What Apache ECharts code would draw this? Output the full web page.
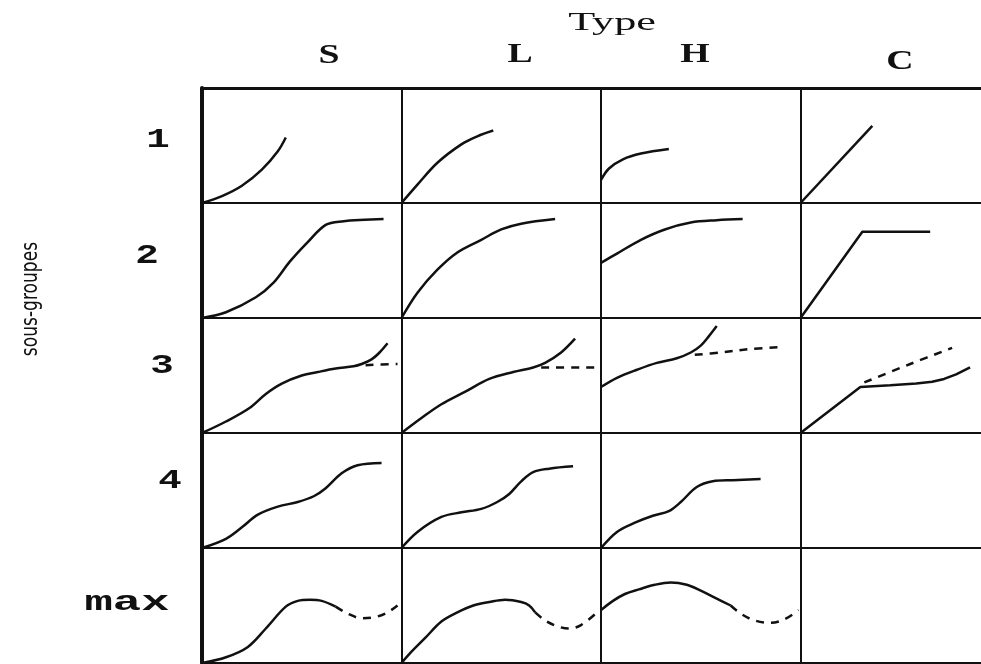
<!DOCTYPE html>
<html>
<head>
<meta charset="utf-8">
<script src="https://cdn.jsdelivr.net/npm/echarts@6/dist/echarts.min.js"></script>
<style>
  html, body { margin: 0; padding: 0; background: #fff; }
  #chart { width: 981px; height: 664px; }
</style>
</head>
<body>
<div id="chart"></div>
<script>
// column / row headings
const colLabels = ['S', 'L', 'H', 'C'];
const rowLabels = ['1', '2', '3', '4', 'max'];

// curves, each cell in its own 0..100 x 0..100 box (x = time, y = value)
// row 1
const s1 = [[0, 0], [10, 6], [20, 15], [30, 29], [38, 45], [42, 57]];
const l1 = [[0, 0], [8, 16], [18, 35], [30, 51], [38, 58], [46, 63]];
const h1 = [[0, 20], [4, 30], [11, 38], [20, 43], [34, 47]];
const c1 = [[0, 0], [36, 67]];
// row 2
const s2 = [[0, 0], [12, 5], [27, 18], [36, 31], [44, 49], [53, 66], [62, 81], [70, 84], [91, 86]];
const l2 = [[0, 0], [8, 22], [18, 42], [28, 57], [40, 68], [50, 77], [60, 82], [77, 86]];
const h2 = [[0, 48], [8, 56], [20, 68], [32, 77], [45, 83], [58, 85], [71, 86]];
const c2 = [[0, 0], [31, 75], [65, 75]];
// row 3 (solid + dashed branch)
const s3 = [[0, 0], [12, 10], [24, 22], [32, 34], [40, 43], [50, 50], [58, 53], [67, 56], [76, 58], [80, 60], [85, 64], [89, 70], [93, 78]];
const s3d = [[82, 59], [98, 60]];
const l3 = [[0, 0], [10, 13], [20, 25], [32, 36], [44, 47], [56, 53], [66, 57], [72, 61], [80, 70], [87, 82]];
const l3d = [[70, 57], [97, 57]];
const h3 = [[0, 40], [8, 48], [18, 55], [28, 61], [38, 65], [45, 70], [50, 76], [54, 84], [58, 93]];
const h3d = [[47, 68], [60, 70], [75, 73], [92, 75]];
const c3 = [[0, 0], [30, 40], [45, 41.5], [58, 43], [66, 44.5], [72, 47], [78, 51], [85, 57]];
const c3d = [[32, 44], [55, 60], [76, 74]];
// row 4
const s4 = [[0, 0], [12, 8], [20, 18], [28, 29], [38, 36], [48, 40], [56, 45], [62, 52], [70, 65], [78, 72], [90, 74]];
const l4 = [[0, 0], [8, 14], [20, 27], [30, 31], [40, 34], [48, 40], [54, 47], [60, 58], [66, 66], [74, 69], [86, 71]];
const h4 = [[0, 0], [8, 14], [17, 22], [26, 28], [34, 32], [40, 40], [48, 53], [56, 58], [66, 59], [80, 60]];
// row max
const s5 = [[0, 0], [12, 5], [23, 14], [32, 30], [42, 49], [48, 54], [54, 55], [60, 54], [67, 49]];
const s5d = [[67, 49], [73, 43], [80, 39], [87, 40], [93, 44], [98, 50]];
const l5 = [[0, 0], [4, 8], [12, 22], [20, 36], [28, 44], [36, 50], [44, 53], [52, 55], [60, 53], [64, 50], [67, 44]];
const l5d = [[67, 44], [72, 37], [78, 32], [84, 30], [90, 33], [98, 44]];
const h5 = [[0, 46], [6, 54], [12, 60], [19, 64], [27, 68], [35, 70], [43, 68], [50, 63], [58, 56], [65, 50]];
const h5d = [[65, 50], [70, 43], [77, 37], [85, 35], [92, 38], [99, 46]];

// which curve goes in which cell
const cells = [
  [0, 0, s1], [0, 1, l1], [0, 2, h1], [0, 3, c1, null, false],
  [1, 0, s2], [1, 1, l2], [1, 2, h2], [1, 3, c2, null, false],
  [2, 0, s3, s3d], [2, 1, l3, l3d], [2, 2, h3, h3d], [2, 3, c3, c3d, false],
  [3, 0, s4], [3, 1, l4], [3, 2, h4],
  [4, 0, s5, s5d], [4, 1, l5, l5d], [4, 2, h5, h5d]
];

const chart = echarts.init(document.getElementById('chart'));

// table frame (last column runs off the right edge)
const LEFT = 202, TOP = 88, CW = 199.5, RH = 115;
const ink = '#111';

const grid = [{ left: LEFT, top: TOP, width: CW * 4, height: RH * 5, outerBoundsMode: 'none' }];
const xAxis = [
  { gridIndex: 0, type: 'value', min: 0, max: 4, interval: 1, axisLabel: { show: false }, axisTick: { show: false },
    axisLine: { show: true, lineStyle: { color: ink, width: 2 } },
    splitLine: { show: true, lineStyle: { color: ink, width: 2 } } },
  { gridIndex: 0, type: 'value', position: 'top', min: 0, max: 4, interval: 1, axisLabel: { show: false }, axisTick: { show: false },
    axisLine: { show: true, lineStyle: { color: ink, width: 3 } }, splitLine: { show: false } }
];
const yAxis = [
  { gridIndex: 0, type: 'value', min: 0, max: 5, interval: 1, axisLabel: { show: false }, axisTick: { show: false },
    axisLine: { show: true, lineStyle: { color: ink, width: 4 } },
    splitLine: { show: true, lineStyle: { color: ink, width: 2 } } }
];
const series = [];

cells.forEach(function (cell) {
  const [row, col, solid, dashed, smooth] = cell;
  const gi = grid.length;
  const xi = xAxis.length;
  const yi = yAxis.length;
  grid.push({ left: LEFT + col * CW, top: TOP + row * RH, width: CW, height: RH, outerBoundsMode: 'none' });
  xAxis.push({ gridIndex: gi, type: 'value', min: 0, max: 100, show: false });
  yAxis.push({ gridIndex: gi, type: 'value', min: 0, max: 100, show: false });
  series.push({
    type: 'line', xAxisIndex: xi, yAxisIndex: yi, data: solid,
    smooth: smooth === false ? false : 0.35, showSymbol: false, clip: false,
    lineStyle: { color: ink, width: 2.5 }
  });
  if (dashed) {
    series.push({
      type: 'line', xAxisIndex: xi, yAxisIndex: yi, data: dashed,
      smooth: 0.35, showSymbol: false, clip: false,
      lineStyle: { color: ink, width: 2.5, type: [8, 7] }
    });
  }
});

// heading positions
const colPos = [[329, 56], [520, 55], [695, 55], [900, 62]];
const rowPos = [[158, 140], [147, 256], [162, 366], [170, 481], [127, 603]];

const graphic = [
  { type: 'text', x: 612, y: 23, scaleX: 1.7,
    style: { text: 'Type', fill: ink, font: '26px "Liberation Serif", serif', textAlign: 'center', textVerticalAlign: 'middle' } },
  { type: 'text', x: 31, y: 299, rotation: Math.PI / 2, scaleY: 1.25,
    style: { text: 'sous-groupes', fill: ink, font: '19px "Liberation Sans Narrow", "DejaVu Sans Condensed", "Liberation Sans", sans-serif', textAlign: 'center', textVerticalAlign: 'middle' } }
];
colLabels.forEach(function (t, i) {
  graphic.push({ type: 'text', x: colPos[i][0], y: colPos[i][1], scaleX: 1.4,
    style: { text: t, fill: ink, font: 'bold 27px "Liberation Serif", serif', textAlign: 'center', textVerticalAlign: 'middle' } });
});
rowLabels.forEach(function (t, i) {
  graphic.push({ type: 'text', x: rowPos[i][0], y: rowPos[i][1], scaleX: t === 'max' ? 1.75 : 1.45,
    style: { text: t, fill: ink, font: 'bold 27px "Liberation Mono", monospace', textAlign: 'center', textVerticalAlign: 'middle' } });
});

chart.setOption({
  animation: false,
  backgroundColor: '#fff',
  grid: grid,
  xAxis: xAxis,
  yAxis: yAxis,
  series: series,
  graphic: graphic
});
</script>
</body>
</html>
